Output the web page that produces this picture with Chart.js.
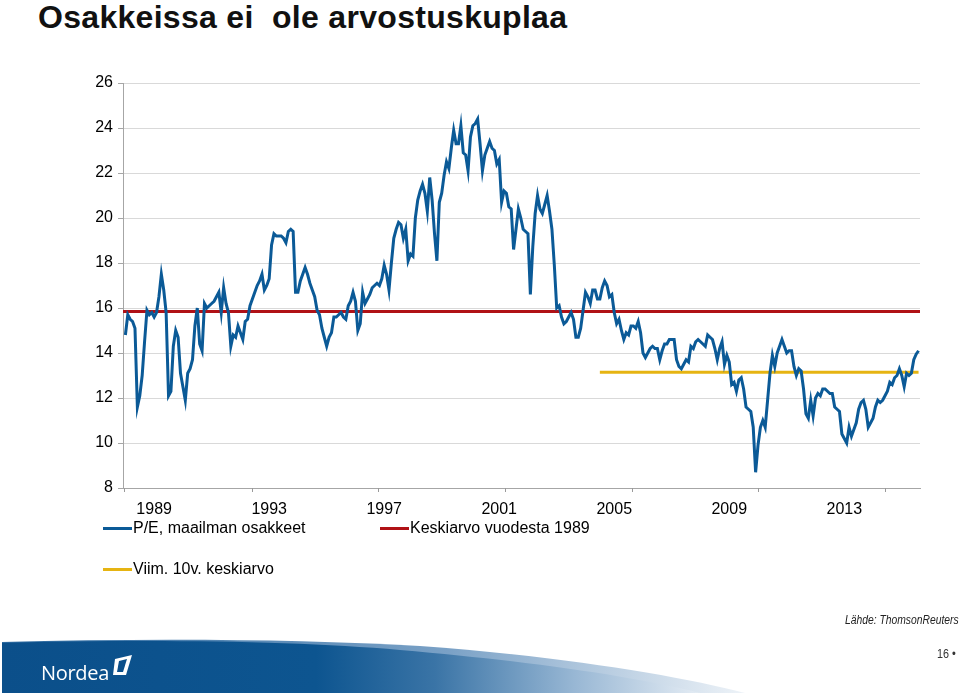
<!DOCTYPE html>
<html>
<head>
<meta charset="utf-8">
<script src="https://cdn.jsdelivr.net/npm/chart.js@4.4.1/dist/chart.umd.min.js"></script>
<style>
  body { margin: 0; width: 960px; height: 693px; position: relative; overflow: hidden; background: #fff;
         font-family: "Liberation Sans", Arial, sans-serif; color: #000; }
  #title { position: absolute; left: 38px; top: 1px; font-size: 32px; line-height: 32px; font-weight: bold;
           letter-spacing: 0.3px; color: #111; white-space: pre; }
  #chartWrap { position: absolute; left: 0; top: 0; width: 960px; height: 693px; }
  .leg { position: absolute; font-size: 16px; line-height: 20px; white-space: nowrap; }
  .leg i { position: absolute; left: -30px; top: 9px; width: 29px; height: 3px; }
  #source { position: absolute; left: 845px; top: 613px; font-size: 12px; font-style: italic; white-space: nowrap;
            transform: scaleX(0.86); transform-origin: 0 0; color: #222; }
  #page { position: absolute; left: 937px; top: 647px; font-size: 12px; color: #333; white-space: nowrap;
          transform: scaleX(0.9); transform-origin: 0 0; }
  #logo { position: absolute; left: 41px; top: 659px; font-size: 20px; color: #fff; letter-spacing: -0.3px;
          font-family: "Open Sans", "Liberation Sans", sans-serif; }
  #band { position: absolute; left: 0; top: 630px; }
</style>
</head>
<body>
<div id="title">Osakkeissa ei  ole arvostuskuplaa</div>
<div id="chartWrap"><canvas id="chart"></canvas></div>

<div class="leg" style="left:133px; top:518px"><i style="background:#0b5a97"></i>P/E, maailman osakkeet</div>
<div class="leg" style="left:410px; top:518px"><i style="background:#b01116"></i>Keskiarvo vuodesta 1989</div>
<div class="leg" style="left:133px; top:559px"><i style="background:#e6b412"></i>Viim. 10v. keskiarvo</div>

<svg id="band" width="960" height="63">
  <defs>
    <linearGradient id="g" x1="0" y1="0" x2="1" y2="0">
      <stop offset="0" stop-color="#0b4f8a"/>
      <stop offset="0.45" stop-color="#0d5590"/>
      <stop offset="0.62" stop-color="#3a74a6"/>
      <stop offset="0.82" stop-color="#98b7d4"/>
      <stop offset="1" stop-color="#e4ecf4"/>
    </linearGradient>
    <linearGradient id="g2" x1="0" y1="0" x2="1" y2="0">
      <stop offset="0" stop-color="#2d6aa0"/>
      <stop offset="0.6" stop-color="#7aa1c6"/>
      <stop offset="1" stop-color="#eef3f8"/>
    </linearGradient>
  </defs>
  <path d="M2,12 C150,8 300,9 420,16 C560,26 680,46 745,63 L2,63 Z" fill="url(#g2)"/>
  <path d="M2,13 C150,9 300,11 400,20 C540,32 640,48 700,63 L2,63 Z" fill="url(#g)"/>
  <path d="M115,29 L132,25 L126,45 L113,45 Z" fill="#fff"/>
  <path d="M119,31 L127,29 L123,42 L117,42 Z" fill="#0b4f8a"/>
</svg>
<div id="logo">Nordea</div>
<div id="source">Lähde: ThomsonReuters</div>
<div id="page">16 •</div>

<script>
// monthly P/E, first value = January 1988
const START_YEAR = 1988;
const PE_VALUES = [
  14.8, 15.7, 15.5, 15.4, 15.1, 11.6, 12.1, 13.0, 14.5, 15.9,
  15.7, 15.8, 15.6, 15.8, 16.5, 17.5, 16.8, 15.8, 12.1, 12.3,
  14.3, 15.0, 14.7, 13.1, 12.5, 11.9, 13.1, 13.3, 13.7, 15.2,
  16.0, 14.4, 14.1, 16.2, 16.0, 16.1, 16.2, 16.3, 16.5, 16.7,
  15.8, 16.9, 16.2, 15.8, 14.3, 14.8, 14.7, 15.2, 14.9, 14.6,
  15.4, 15.5, 16.1, 16.4, 16.7, 17.0, 17.2, 17.5, 16.8, 17.0,
  17.3, 18.8, 19.3, 19.2, 19.2, 19.2, 19.1, 18.9, 19.4, 19.5,
  19.4, 16.7, 16.7, 17.2, 17.5, 17.8, 17.5, 17.1, 16.8, 16.5,
  15.9, 15.7, 15.1, 14.7, 14.3, 14.7, 14.9, 15.6, 15.6, 15.7,
  15.8, 15.6, 15.5, 16.1, 16.3, 16.7, 16.3, 15.0, 15.3, 16.7,
  16.2, 16.4, 16.6, 16.9, 17.0, 17.1, 17.0, 17.3, 17.9, 17.5,
  16.8, 18.0, 19.1, 19.5, 19.8, 19.7, 19.1, 19.5, 18.1, 18.4,
  18.3, 20.0, 20.8, 21.2, 21.5, 21.1, 20.3, 21.8, 20.8, 19.3,
  18.1, 20.7, 21.1, 21.9, 22.5, 22.2, 23.1, 23.9, 23.3, 23.3,
  24.1, 22.9, 22.8, 22.1, 23.6, 24.1, 24.2, 24.4, 23.3, 22.1,
  22.8, 23.1, 23.4, 23.1, 23.0, 22.4, 22.6, 20.7, 21.2, 21.1,
  20.5, 20.4, 18.6, 19.5, 20.4, 20.0, 19.5, 19.4, 19.3, 16.6,
  18.7, 20.2, 21.0, 20.4, 20.2, 20.6, 21.0, 20.3, 19.5, 17.9,
  16.0, 16.1, 15.6, 15.3, 15.4, 15.6, 15.8, 15.5, 14.7, 14.7,
  15.1, 15.9, 16.7, 16.5, 16.2, 16.8, 16.8, 16.4, 16.4, 16.9,
  17.2, 17.0, 16.5, 16.6, 15.8, 15.3, 15.5, 15.0, 14.6, 14.9,
  14.8, 15.2, 15.2, 15.1, 15.4, 14.9, 14.0, 13.8, 14.0, 14.2,
  14.3, 14.2, 14.2, 13.7, 14.1, 14.4, 14.4, 14.6, 14.6, 14.6,
  13.7, 13.4, 13.3, 13.5, 13.7, 13.6, 14.3, 14.2, 14.5, 14.6,
  14.5, 14.4, 14.3, 14.8, 14.7, 14.6, 14.2, 13.7, 14.2, 14.5,
  13.5, 13.9, 13.6, 12.6, 12.7, 12.3, 12.8, 12.9, 12.4, 11.6,
  11.5, 11.4, 10.7, 8.7, 9.9, 10.7, 11.0, 10.7, 11.9, 13.1,
  13.9, 13.4, 14.0, 14.3, 14.6, 14.3, 14.0, 14.1, 14.1, 13.4,
  13.0, 13.3, 13.2, 12.4, 11.3, 11.1, 11.9, 11.2, 12.0, 12.2,
  12.1, 12.4, 12.4, 12.3, 12.2, 12.2, 11.6, 11.5, 11.4, 10.4,
  10.2, 10.0, 10.7, 10.3, 10.6, 10.9, 11.5, 11.8, 11.9, 11.5,
  10.7, 10.9, 11.1, 11.6, 11.9, 11.8, 11.9, 12.1, 12.3, 12.7,
  12.6, 12.9, 13.0, 13.3, 13.0, 12.5, 13.1, 13.0, 13.1, 13.7,
  13.95, 14.1
];
const AVG_SINCE_1989 = 15.85;
const AVG_10Y = 13.15;
const AVG_10Y_FROM = 198;           // month index where the 10y line starts
const YEAR_LABELS = [1989, 1993, 1997, 2001, 2005, 2009, 2013];
const X_TICK_MARKS = [-0.5, 52.8, 105.5, 158.4, 211.4, 264.2, 317.2];
const Y_MIN = 8, Y_MAX = 26, Y_STEP = 2;
const X_MIN = -1, X_MAX = 331.6;

const monthIndex = y => (y - START_YEAR) * 12;
const peData = PE_VALUES.map((v, i) => ({ x: i, y: v }));
const lastIdx = PE_VALUES.length - 1;

// small tick marks under the x axis (they don't line up with the labels in the original)
const tickMarks = {
  id: 'tickMarks',
  afterDraw(chart) {
    const { ctx, chartArea } = chart;
    const sx = chart.scales.x;
    ctx.save();
    ctx.strokeStyle = '#9a9a9a';
    ctx.lineWidth = 1;
    X_TICK_MARKS.forEach(v => {
      const px = Math.round(sx.getPixelForValue(v)) + 0.5;
      ctx.beginPath();
      ctx.moveTo(px, chartArea.bottom);
      ctx.lineTo(px, chartArea.bottom + 4);
      ctx.stroke();
    });
    ctx.restore();
  }
};

new Chart(document.getElementById('chart'), {
  type: 'line',
  data: {
    datasets: [
      {
        label: 'P/E, maailman osakkeet',
        data: peData,
        borderColor: '#0b5a97',
        borderWidth: 3,
        pointRadius: 0,
        tension: 0,
        order: 1
      },
      {
        label: 'Keskiarvo vuodesta 1989',
        data: [{ x: X_MIN, y: AVG_SINCE_1989 }, { x: X_MAX, y: AVG_SINCE_1989 }],
        borderColor: '#b01116',
        borderWidth: 3,
        pointRadius: 0,
        order: 2
      },
      {
        label: 'Viim. 10v. keskiarvo',
        data: [{ x: AVG_10Y_FROM, y: AVG_10Y }, { x: lastIdx, y: AVG_10Y }],
        borderColor: '#e6b412',
        borderWidth: 3,
        pointRadius: 0,
        order: 3
      }
    ]
  },
  options: {
    responsive: true,
    maintainAspectRatio: false,
    animation: false,
    layout: { padding: { top: 83, right: 40, bottom: 173, left: 0 } },
    plugins: { legend: { display: false }, tooltip: { enabled: false } },
    scales: {
      x: {
        type: 'linear',
        min: X_MIN,
        max: X_MAX,
        grid: { display: false },
        border: { display: true, color: '#a6a6a6', width: 1 },
        afterBuildTicks: s => { s.ticks = YEAR_LABELS.map(y => ({ value: monthIndex(y) })); },
        afterFit: s => { s.height = 32; },
        ticks: {
          autoSkip: false,
          maxRotation: 0,
          padding: 4,
          color: '#000',
          font: { family: '"Liberation Sans", Arial, sans-serif', size: 16 },
          callback: v => String(START_YEAR + v / 12)
        }
      },
      y: {
        min: Y_MIN,
        max: Y_MAX,
        grid: { color: '#d9d9d9', tickColor: '#a6a6a6', tickLength: 5 },
        border: { display: true, color: '#a6a6a6', width: 1 },
        afterFit: s => { s.width = 123; },
        ticks: {
          stepSize: Y_STEP,
          padding: 5,
          color: '#000',
          font: { family: '"Liberation Sans", Arial, sans-serif', size: 16 }
        }
      }
    }
  },
  plugins: [tickMarks]
});
</script>
</body>
</html>
